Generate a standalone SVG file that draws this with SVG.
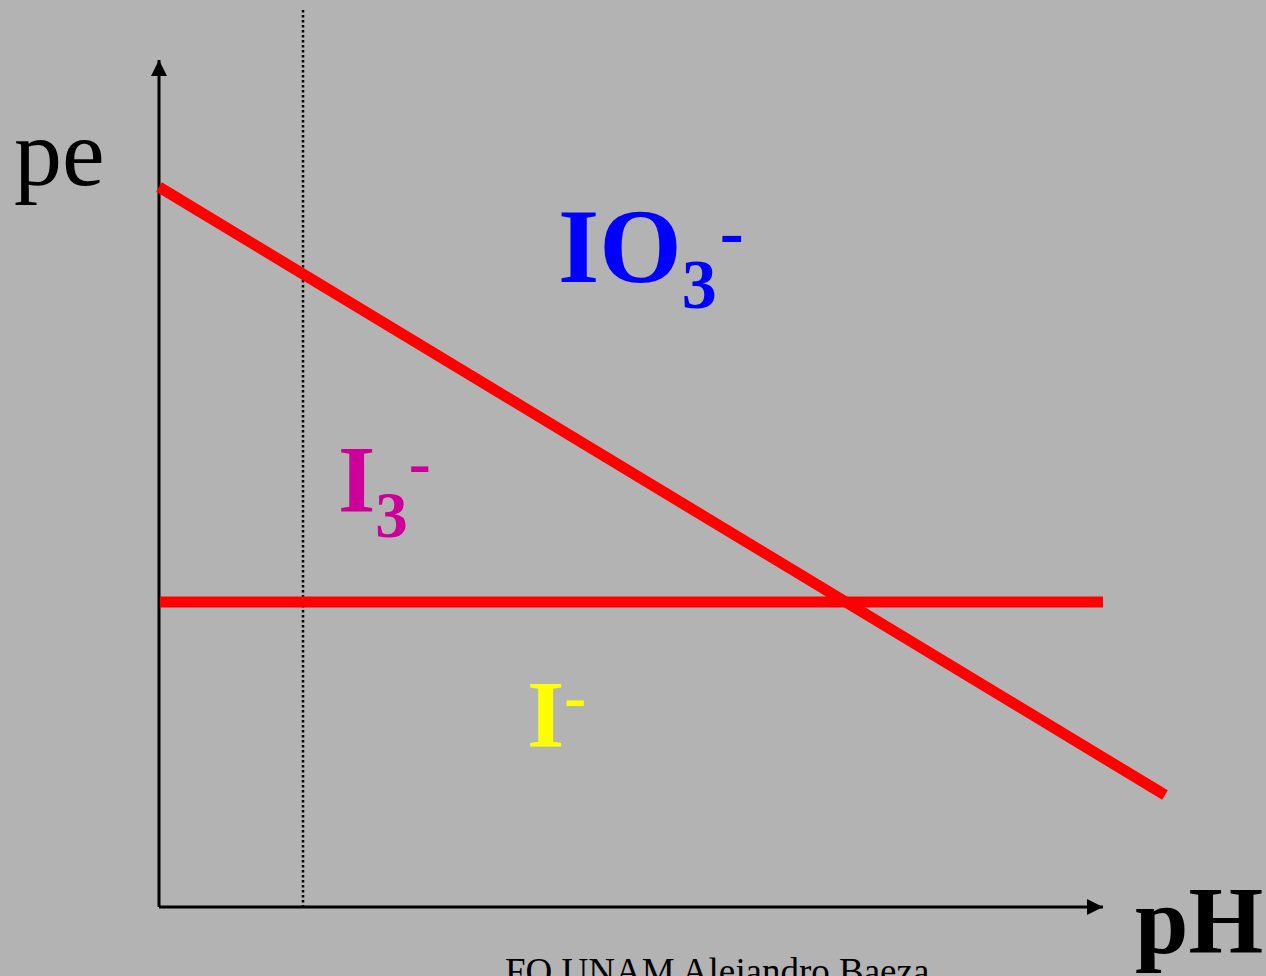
<svg xmlns="http://www.w3.org/2000/svg" width="1266" height="976" viewBox="0 0 1266 976">
<defs>
<marker id="arr" markerWidth="16" markerHeight="16" refX="16" refY="8" orient="auto" markerUnits="userSpaceOnUse">
<path d="M0,0 L16,8 L0,16 Z" fill="#000"/>
</marker>
</defs>
<style>
.t{font-family:"Liberation Serif","Times New Roman",serif}
.b{font-weight:bold}
.red{stroke:#ff0000;stroke-width:11;fill:none}
</style>
<rect width="1266" height="976" fill="#b3b3b3"/>
<g id="axes">
<line x1="159" y1="907" x2="159" y2="60" stroke="#000" stroke-width="3" marker-end="url(#arr)"/>
<line x1="159" y1="907" x2="1103" y2="907" stroke="#000" stroke-width="3" marker-end="url(#arr)"/>
<line x1="303" y1="10" x2="303" y2="907" stroke="#000" stroke-width="2.5" stroke-dasharray="2.5,2.5"/>
</g>
<g id="connectors">
<line class="red" x1="159" y1="187" x2="1165" y2="795"/>
<line class="red" x1="160" y1="602" x2="1103" y2="602"/>
</g>
<g id="labels">
<text class="t" x="14" y="185" font-size="96">pe</text>
<text class="t b" x="1135" y="953" font-size="96">pH</text>
<g id="IO3"><text class="t b" x="558" y="282" font-size="106" fill="#0000ff">IO<tspan font-size="70" dy="26">3</tspan><tspan font-size="72" dx="3" dy="-52">-</tspan></text></g>
<g id="I3"><text class="t b" x="338" y="512" font-size="96" fill="#cc0099">I<tspan font-size="65" dy="25">3</tspan><tspan font-size="66" dx="1" dy="-52">-</tspan></text></g>
<g id="I"><text class="t b" x="527" y="747" font-size="96" fill="#ffff00">I<tspan font-size="66" dy="-28">-</tspan></text></g>
<text class="t" x="505" y="984" font-size="37">FQ UNAM Alejandro Baeza</text>
</g>
</svg>
